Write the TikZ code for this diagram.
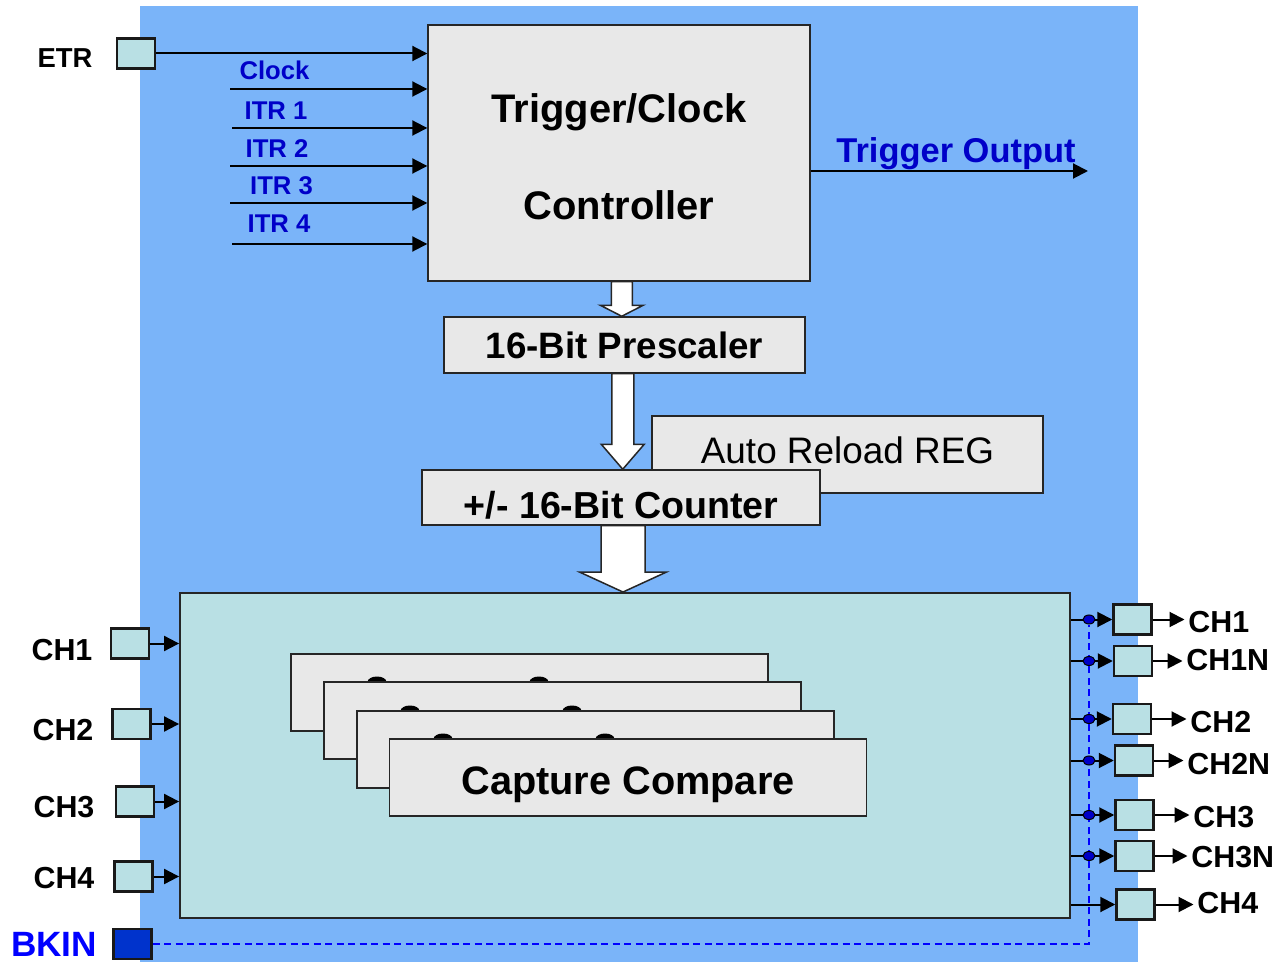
\documentclass[tikz,border=0pt]{standalone}
\usepackage{fontspec}
\setmainfont{Liberation Sans}
\usepackage{tikz}
\usetikzlibrary{arrows.meta,calc,shapes.geometric}

\definecolor{bgblue}{RGB}{122,180,249}
\definecolor{boxgray}{RGB}{232,232,232}
\definecolor{pinfill}{RGB}{185,224,228}
\definecolor{itrblue}{RGB}{0,0,200}
\definecolor{brkblue}{RGB}{0,0,255}
\definecolor{brkfill}{RGB}{0,51,204}

% hollow arrow: from, to, half shaft, half head, head length
\newcommand{\fatarrow}[5]{%
  \draw[hollowarr] let \p1=(#1), \p2=(#2), \p3=($(#1)!0.5!(#2)$) in
    (\x3-#3,\y1) -- (\x3-#3,\y2+#5) -- (\x3-#4,\y2+#5) -- (\x3,\y2)
    -- (\x3+#4,\y2+#5) -- (\x3+#3,\y2+#5) -- (\x3+#3,\y1) -- cycle;}

\begin{document}
\begin{tikzpicture}[
  x=0.02cm, y=-0.02cm,
  blockbox/.style={draw=black!85, line width=0.03cm, fill=boxgray, inner sep=0pt},
  pinbox/.style={draw=black!90, line width=0.05cm, fill=pinfill, inner sep=0pt,
    minimum width=0.76cm, minimum height=0.6cm},
  sig/.style={line width=0.04cm, -{Triangle[length=0.3cm,width=0.3cm]}},
  ]
  \tikzset{%
    hollowarr/.style={draw=black!85, fill=white, line width=0.03cm},
    lbl/.style={font=\bfseries\fontsize{17.3}{20}\selectfont, inner sep=2pt},
    itrlbl/.style={font=\bfseries\fontsize{14.6}{17}\selectfont, text=itrblue, inner sep=1pt},
    tap/.style={ellipse, draw=black, line width=0.02cm, fill=itrblue, inner sep=0pt,
      minimum width=0.24cm, minimum height=0.18cm},
    brkline/.style={draw=brkblue, line width=0.04cm, dash pattern=on 0.14cm off 0.09cm},
  }
  %Background
  \fill[white] (0,0) rectangle (1288,962);
  \fill[bgblue] (140,6) rectangle (1138,962);
  \useasboundingbox (0,0) rectangle (1288,962);
  %Nodes
  \node[blockbox, minimum width=7.64cm, minimum height=5.12cm, align=center, text height=2.66cm, text depth=0pt,
    font=\bfseries\fontsize{22.7}{55}\selectfont] (ctrl) at (619,153) {Trigger/Clock\\Controller};
  \node[blockbox, minimum width=7.22cm, minimum height=1.12cm,
    font=\bfseries\fontsize{20.9}{25}\selectfont] (presc) at (624.5,345) {16-Bit Prescaler};
  \node[blockbox, minimum width=7.82cm, minimum height=1.54cm, text height=0.54cm, text depth=0.18cm,
    font=\fontsize{21}{25}\selectfont] (arr) at (847.5,454.5) {Auto Reload REG};
  \node[blockbox, minimum width=7.96cm, minimum height=1.1cm, text height=0.85cm, text depth=0pt,
    font=\bfseries\fontsize{21.4}{26}\selectfont] (cnt) at (621,497.5) {+/- 16-Bit Counter};
  \node[blockbox, fill=pinfill, line width=0.04cm, minimum width=17.8cm, minimum height=6.5cm] (capt) at (625,755.5) {};
  % capture compare stack
  \node[blockbox, minimum width=9.54cm, minimum height=1.54cm] (cc1) at (529.5,692.5) {};
  \fill (377,682) ellipse [x radius=9.5, y radius=5.5] (539,682) ellipse [x radius=9.5, y radius=5.5];
  \node[blockbox, minimum width=9.54cm, minimum height=1.54cm] (cc2) at (562.5,720.5) {};
  \fill (410,711) ellipse [x radius=9.5, y radius=5.5] (572,711) ellipse [x radius=9.5, y radius=5.5];
  \node[blockbox, minimum width=9.54cm, minimum height=1.54cm] (cc3) at (595.5,749.5) {};
  \fill (443,739) ellipse [x radius=9.5, y radius=5.5] (605,739) ellipse [x radius=9.5, y radius=5.5];
  \node[blockbox, minimum width=9.54cm, minimum height=1.54cm, text height=0.67cm, text depth=0pt,
    font=\bfseries\fontsize{22.6}{26}\selectfont] (cc4) at (628,777.5) {Capture Compare};

  % trigger inputs
  \node[pinbox] (etrin) at (136,53.5) {};
  \node[lbl, font=\bfseries\fontsize{15.6}{18}\selectfont, anchor=base] (etr) at (65,68) {ETR};
  \coordinate (clk) at (230,89);
  \coordinate (itr1) at (232,128);
  \coordinate (itr2) at (230,166);
  \coordinate (itr3) at (230,203);
  \coordinate (itr4) at (232,244);
  \node[itrlbl, anchor=base] (clklbl) at (274.5,80) {Clock};
  \node[itrlbl, anchor=base] (itr1lbl) at (276,120) {ITR 1};
  \node[itrlbl, anchor=base] (itr2lbl) at (277,158) {ITR 2};
  \node[itrlbl, anchor=base] (itr3lbl) at (281.5,195) {ITR 3};
  \node[itrlbl, anchor=base] (itr4lbl) at (279,233) {ITR 4};
  \coordinate (trg) at (1088,171);
  \node[font=\bfseries\fontsize{19.6}{23}\selectfont, text=itrblue, anchor=base] (trglbl) at (956,163) {Trigger Output};

  % channel inputs
  \node[pinbox] (i1) at (130,643.5) {};
  \node[pinbox] (i2) at (131.5,724) {};
  \node[pinbox] (i3) at (135,801.5) {};
  \node[pinbox] (i4) at (133.5,876.5) {};
  \node[lbl, anchor=base] (ch1l) at (62,660) {CH1};
  \node[lbl, anchor=base] (ch2l) at (63,740) {CH2};
  \node[lbl, anchor=base] (ch3l) at (64,817) {CH3};
  \node[lbl, anchor=base] (ch4l) at (64,888) {CH4};
  \node[pinbox, fill=brkfill] (bkin) at (132.5,944) {};
  \node[font=\bfseries\fontsize{20}{24}\selectfont, text=brkblue, inner sep=0pt, anchor=base] (bkinl) at (54,956) {BKIN};

  % channel outputs
  \node[pinbox] (o1) at (1132.5,619.5) {};
  \node[pinbox] (o1n) at (1133,661) {};
  \node[pinbox] (o2) at (1132,719) {};
  \node[pinbox] (o2n) at (1134,760.5) {};
  \node[pinbox] (o3) at (1134.5,815) {};
  \node[pinbox] (o3n) at (1134.5,856) {};
  \node[pinbox] (o4) at (1135.5,904.5) {};
  \node[lbl, anchor=base west] (ch1r) at (1184.5,632) {CH1};
  \node[lbl, anchor=base west] (ch1nr) at (1182.5,670) {CH1N};
  \node[lbl, anchor=base west] (ch2r) at (1186.5,732) {CH2};
  \node[lbl, anchor=base west] (ch2nr) at (1183.5,774) {CH2N};
  \node[lbl, anchor=base west] (ch3r) at (1189.5,827) {CH3};
  \node[lbl, anchor=base west] (ch3nr) at (1187.5,867) {CH3N};
  \node[lbl, anchor=base west] (ch4r) at (1193.5,913) {CH4};
  \coordinate (tapTop) at (1089,625);

  %Lines
  \fatarrow{ctrl.south}{presc.north}{0.21cm}{0.43cm}{0.22cm}
  \fatarrow{presc.south}{cnt.north}{0.22cm}{0.43cm}{0.5cm}
  \fatarrow{cnt.south}{capt.north}{0.44cm}{0.87cm}{0.4cm}

  \draw[sig] (etrin.east) -- (etrin.east -| ctrl.west);
  \draw[sig] (clk) -- (clk -| ctrl.west);
  \draw[sig] (itr1) -- (itr1 -| ctrl.west);
  \draw[sig] (itr2) -- (itr2 -| ctrl.west);
  \draw[sig] (itr3) -- (itr3 -| ctrl.west);
  \draw[sig] (itr4) -- (itr4 -| ctrl.west);
  \draw[sig] (trg -| ctrl.east) -- (trg);

  \draw[sig] (i1.east) -- (i1.east -| capt.west);
  \draw[sig] (i2.east) -- (i2.east -| capt.west);
  \draw[sig] (i3.east) -- (i3.east -| capt.west);
  \draw[sig] (i4.east) -- (i4.east -| capt.west);

  \draw[brkline] (bkin.east) -| (tapTop);

  \draw[sig] (o1.west -| capt.east) -- (o1.west);
  \draw[sig] (o1n.west -| capt.east) -- (o1n.west);
  \draw[sig] (o2.west -| capt.east) -- (o2.west);
  \draw[sig] (o2n.west -| capt.east) -- (o2n.west);
  \draw[sig] (o3.west -| capt.east) -- (o3.west);
  \draw[sig] (o3n.west -| capt.east) -- (o3n.west);
  \draw[sig] (o4.west -| capt.east) -- (o4.west);
  \node[tap] (t1) at (o1.west -| tapTop) {};
  \node[tap] (t1n) at (o1n.west -| tapTop) {};
  \node[tap] (t2) at (o2.west -| tapTop) {};
  \node[tap] (t2n) at (o2n.west -| tapTop) {};
  \node[tap] (t3) at (o3.west -| tapTop) {};
  \node[tap] (t3n) at (o3n.west -| tapTop) {};

  \draw[sig] (o1.east) -- (o1.east -| ch1r.west);
  \draw[sig] (o1n.east) -- (o1n.east -| ch1nr.west);
  \draw[sig] (o2.east) -- (o2.east -| ch2r.west);
  \draw[sig] (o2n.east) -- (o2n.east -| ch2nr.west);
  \draw[sig] (o3.east) -- (o3.east -| ch3r.west);
  \draw[sig] (o3n.east) -- (o3n.east -| ch3nr.west);
  \draw[sig] (o4.east) -- (o4.east -| ch4r.west);
\end{tikzpicture}
\end{document}
